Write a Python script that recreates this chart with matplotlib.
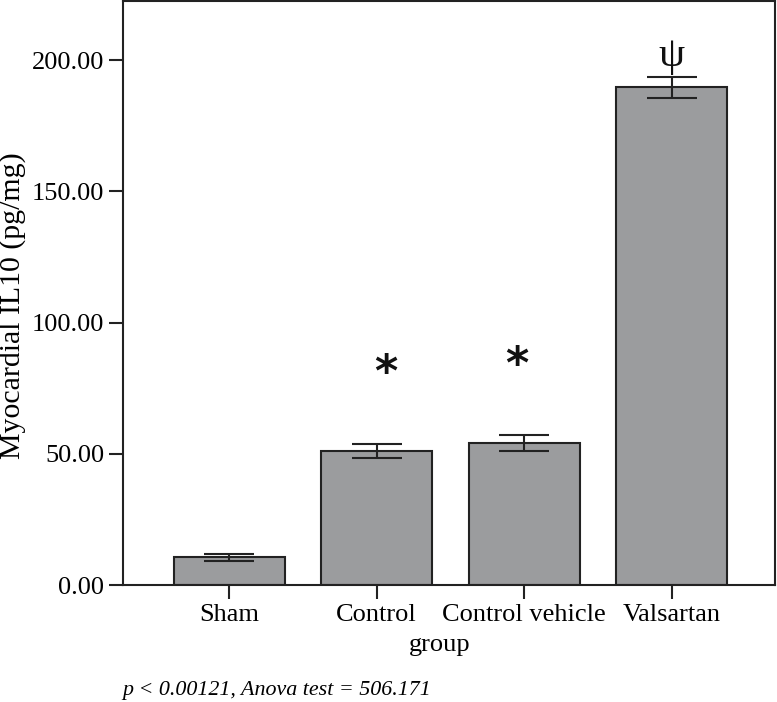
import numpy as np
import matplotlib.pyplot as plt

# group means and error bars
groups = ['Sham', 'Control', 'Control vehicle', 'Valsartan']
il10 = [10.6, 51.2, 54.0, 189.6]
err = [1.3, 2.7, 3.0, 4.0]

# significance marks: (group index, height, symbol)
marks = [(1.06, 80.5, '*'), (1.95, 83.5, '*'), (3.0, 201.5, 'ψ')]

plt.rcParams['font.family'] = ['Liberation Serif', 'DejaVu Serif']

fig = plt.figure(figsize=(7.77, 7.02), dpi=100)
ax = fig.add_axes([123/777, 117/702, 652/777, 584/702])

x = np.arange(len(groups))
ax.bar(x, il10, width=0.75, color='#9b9c9e', edgecolor='#222222', linewidth=1.5, zorder=2)
ax.errorbar(x, il10, yerr=err, fmt='none', ecolor='#222222', elinewidth=1.5,
            capsize=18, capthick=1.5, zorder=3)

for xi, yi, s in marks:
    if s == '*':
        ax.text(xi, yi, s, ha='center', va='center', fontsize=32, fontweight='bold',
                family=['DejaVu Sans'], color='#111111')
    else:
        ax.text(xi, yi, s, ha='center', va='center', fontsize=30, color='#111111')

ax.set_xlim(-0.72, 3.70)
ax.set_ylim(0, 222.5)
ax.set_xticks(x)
ax.set_xticklabels(groups)
ax.set_yticks([0, 50, 100, 150, 200])
ax.set_yticklabels(['%.2f' % v for v in [0, 50, 100, 150, 200]])
ax.tick_params(axis='both', labelsize=19, length=10, width=1.5, direction='out',
               color='#222222', pad=3.5)
for sp in ax.spines.values():
    sp.set_linewidth(1.5)
    sp.set_color('#222222')

fig.text(13/777, 1 - 306/702, 'Myocardial IL10 (pg/mg)', rotation=90, ha='center', va='center',
         fontsize=21.5)
fig.text(440/777, 1 - 645/702, 'group', ha='center', va='center', fontsize=19)
fig.text(122/777, 1 - 690/702, 'p < 0.00121, Anova test = 506.171', ha='left', va='center',
         fontsize=15.8, style='italic')

fig.savefig('out.png', dpi=100)
